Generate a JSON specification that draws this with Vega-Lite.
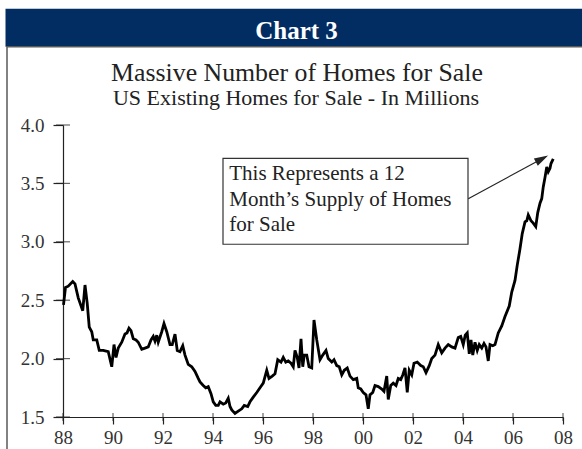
{
  "$schema": "https://vega.github.io/schema/vega-lite/v6.json",
  "width": 500,
  "height": 292,
  "autosize": {"type": "none"},
  "padding": {"left": 63, "top": 125, "right": 19, "bottom": 32},
  "background": "white",
  "config": {
    "view": {"stroke": null},
    "axis": {
      "labelFont": "Liberation Serif",
      "labelFontSize": 19,
      "labelColor": "#333333",
      "domainColor": "#222222",
      "domainWidth": 1.2,
      "tickColor": "#222222",
      "tickWidth": 1.2,
      "grid": false,
      "title": null,
      "labelFlush": false,
      "labelOverlap": false
    }
  },
  "datasets": {
    "homes": [
      {"t": 1988.02, "v": 2.46}, {"t": 1988.10, "v": 2.61}, {"t": 1988.21, "v": 2.62}, {"t": 1988.39, "v": 2.66},
      {"t": 1988.48, "v": 2.64}, {"t": 1988.61, "v": 2.52}, {"t": 1988.79, "v": 2.41}, {"t": 1988.88, "v": 2.63},
      {"t": 1988.97, "v": 2.47}, {"t": 1989.05, "v": 2.27}, {"t": 1989.15, "v": 2.23}, {"t": 1989.21, "v": 2.16},
      {"t": 1989.35, "v": 2.16}, {"t": 1989.45, "v": 2.07}, {"t": 1989.61, "v": 2.07}, {"t": 1989.81, "v": 2.06},
      {"t": 1989.95, "v": 1.93}, {"t": 1990.04, "v": 2.12}, {"t": 1990.12, "v": 2.01}, {"t": 1990.21, "v": 2.09},
      {"t": 1990.35, "v": 2.14}, {"t": 1990.48, "v": 2.21}, {"t": 1990.56, "v": 2.22}, {"t": 1990.64, "v": 2.26},
      {"t": 1990.72, "v": 2.24}, {"t": 1990.81, "v": 2.17}, {"t": 1990.92, "v": 2.16}, {"t": 1991.01, "v": 2.14},
      {"t": 1991.15, "v": 2.08}, {"t": 1991.28, "v": 2.09}, {"t": 1991.41, "v": 2.10}, {"t": 1991.52, "v": 2.16},
      {"t": 1991.61, "v": 2.19}, {"t": 1991.68, "v": 2.15}, {"t": 1991.75, "v": 2.20}, {"t": 1991.81, "v": 2.14},
      {"t": 1991.95, "v": 2.23}, {"t": 1992.04, "v": 2.30}, {"t": 1992.15, "v": 2.23}, {"t": 1992.28, "v": 2.12},
      {"t": 1992.37, "v": 2.12}, {"t": 1992.48, "v": 2.21}, {"t": 1992.57, "v": 2.07}, {"t": 1992.68, "v": 2.06},
      {"t": 1992.79, "v": 2.11}, {"t": 1992.88, "v": 2.03}, {"t": 1993.01, "v": 1.95}, {"t": 1993.15, "v": 1.93},
      {"t": 1993.28, "v": 1.89}, {"t": 1993.41, "v": 1.83}, {"t": 1993.48, "v": 1.80}, {"t": 1993.61, "v": 1.77},
      {"t": 1993.71, "v": 1.75}, {"t": 1993.81, "v": 1.76}, {"t": 1993.92, "v": 1.70}, {"t": 1994.01, "v": 1.63},
      {"t": 1994.11, "v": 1.60}, {"t": 1994.21, "v": 1.60}, {"t": 1994.28, "v": 1.63}, {"t": 1994.41, "v": 1.61},
      {"t": 1994.51, "v": 1.62}, {"t": 1994.61, "v": 1.66}, {"t": 1994.68, "v": 1.59}, {"t": 1994.75, "v": 1.56},
      {"t": 1994.88, "v": 1.53}, {"t": 1995.01, "v": 1.55}, {"t": 1995.15, "v": 1.57}, {"t": 1995.25, "v": 1.60},
      {"t": 1995.39, "v": 1.59}, {"t": 1995.48, "v": 1.63}, {"t": 1995.61, "v": 1.67}, {"t": 1995.75, "v": 1.71},
      {"t": 1995.88, "v": 1.75}, {"t": 1996.01, "v": 1.79}, {"t": 1996.15, "v": 1.90}, {"t": 1996.24, "v": 1.83},
      {"t": 1996.37, "v": 1.85}, {"t": 1996.48, "v": 1.87}, {"t": 1996.59, "v": 1.99}, {"t": 1996.72, "v": 1.97},
      {"t": 1996.81, "v": 2.01}, {"t": 1996.91, "v": 1.97}, {"t": 1997.01, "v": 1.98}, {"t": 1997.12, "v": 1.96},
      {"t": 1997.21, "v": 1.93}, {"t": 1997.28, "v": 2.07}, {"t": 1997.37, "v": 2.01}, {"t": 1997.44, "v": 1.92},
      {"t": 1997.52, "v": 2.17}, {"t": 1997.59, "v": 1.93}, {"t": 1997.65, "v": 2.03}, {"t": 1997.75, "v": 2.03},
      {"t": 1997.84, "v": 1.93}, {"t": 1997.95, "v": 1.92}, {"t": 1998.04, "v": 2.33}, {"t": 1998.15, "v": 2.16},
      {"t": 1998.28, "v": 1.99}, {"t": 1998.39, "v": 2.03}, {"t": 1998.52, "v": 2.07}, {"t": 1998.61, "v": 2.00},
      {"t": 1998.75, "v": 1.97}, {"t": 1998.84, "v": 1.99}, {"t": 1998.95, "v": 1.94}, {"t": 1999.05, "v": 1.93},
      {"t": 1999.15, "v": 1.86}, {"t": 1999.25, "v": 1.90}, {"t": 1999.37, "v": 1.92}, {"t": 1999.48, "v": 1.85},
      {"t": 1999.61, "v": 1.82}, {"t": 1999.75, "v": 1.83}, {"t": 1999.81, "v": 1.75}, {"t": 1999.91, "v": 1.74},
      {"t": 2000.01, "v": 1.71}, {"t": 2000.12, "v": 1.69}, {"t": 2000.21, "v": 1.57}, {"t": 2000.28, "v": 1.69},
      {"t": 2000.39, "v": 1.71}, {"t": 2000.48, "v": 1.77}, {"t": 2000.61, "v": 1.76}, {"t": 2000.75, "v": 1.74},
      {"t": 2000.84, "v": 1.72}, {"t": 2000.95, "v": 1.85}, {"t": 2001.01, "v": 1.65}, {"t": 2001.11, "v": 1.77},
      {"t": 2001.21, "v": 1.79}, {"t": 2001.32, "v": 1.77}, {"t": 2001.41, "v": 1.83}, {"t": 2001.51, "v": 1.82},
      {"t": 2001.59, "v": 1.86}, {"t": 2001.68, "v": 1.92}, {"t": 2001.77, "v": 1.71}, {"t": 2001.85, "v": 1.90},
      {"t": 2001.95, "v": 1.86}, {"t": 2002.04, "v": 1.96}, {"t": 2002.17, "v": 1.97}, {"t": 2002.31, "v": 1.94},
      {"t": 2002.41, "v": 1.93}, {"t": 2002.52, "v": 1.88}, {"t": 2002.65, "v": 1.94}, {"t": 2002.75, "v": 2.00},
      {"t": 2002.88, "v": 2.03}, {"t": 2003.01, "v": 2.12}, {"t": 2003.15, "v": 2.05}, {"t": 2003.28, "v": 2.09},
      {"t": 2003.41, "v": 2.12}, {"t": 2003.55, "v": 2.10}, {"t": 2003.68, "v": 2.09}, {"t": 2003.81, "v": 2.18},
      {"t": 2003.91, "v": 2.19}, {"t": 2004.01, "v": 2.12}, {"t": 2004.09, "v": 2.20}, {"t": 2004.17, "v": 2.22},
      {"t": 2004.25, "v": 2.04}, {"t": 2004.32, "v": 2.16}, {"t": 2004.39, "v": 2.03}, {"t": 2004.48, "v": 2.14},
      {"t": 2004.57, "v": 2.07}, {"t": 2004.65, "v": 2.12}, {"t": 2004.75, "v": 2.09}, {"t": 2004.84, "v": 2.13},
      {"t": 2004.92, "v": 2.10}, {"t": 2005.01, "v": 1.98}, {"t": 2005.08, "v": 2.12}, {"t": 2005.19, "v": 2.11},
      {"t": 2005.28, "v": 2.12}, {"t": 2005.41, "v": 2.22}, {"t": 2005.55, "v": 2.28}, {"t": 2005.68, "v": 2.36},
      {"t": 2005.85, "v": 2.45}, {"t": 2005.95, "v": 2.57}, {"t": 2006.08, "v": 2.67}, {"t": 2006.17, "v": 2.80},
      {"t": 2006.28, "v": 2.94}, {"t": 2006.37, "v": 3.07}, {"t": 2006.48, "v": 3.17}, {"t": 2006.55, "v": 3.18},
      {"t": 2006.61, "v": 3.23}, {"t": 2006.72, "v": 3.18}, {"t": 2006.81, "v": 3.16}, {"t": 2006.91, "v": 3.13},
      {"t": 2006.99, "v": 3.25}, {"t": 2007.08, "v": 3.33}, {"t": 2007.15, "v": 3.37}, {"t": 2007.21, "v": 3.47},
      {"t": 2007.28, "v": 3.55}, {"t": 2007.35, "v": 3.64}, {"t": 2007.41, "v": 3.60}, {"t": 2007.48, "v": 3.63},
      {"t": 2007.52, "v": 3.67}, {"t": 2007.61, "v": 3.71}
    ],
    "yticks": [{"y": 1.5}, {"y": 2.0}, {"y": 2.5}, {"y": 3.0}, {"y": 3.5}, {"y": 4.0}],
    "xticks": [{"x": 1988}, {"x": 1990}, {"x": 1992}, {"x": 1994}, {"x": 1996}, {"x": 1998}, {"x": 2000}, {"x": 2002}, {"x": 2004}, {"x": 2006}, {"x": 2008}]
  },
  "layer": [
    {
      "data": {"values": [{"name": "banner"}]},
      "mark": {"type": "rect", "fill": "#022d63", "clip": false},
      "encoding": {
        "x": {"datum": 1985.70, "type": "quantitative", "scale": {"domain": [1988, 2008], "nice": false, "zero": false}},
        "x2": {"datum": 2009.48},
        "y": {"datum": 4.996, "type": "quantitative", "scale": {"domain": [1.5, 4.0], "nice": false, "zero": false}},
        "y2": {"datum": 4.671}
      }
    },
    {
      "data": {"values": [{"name": "frame"}]},
      "mark": {"type": "rect", "fill": null, "stroke": "#5a5a5a", "strokeWidth": 1.5, "clip": false},
      "encoding": {
        "x": {"datum": 1985.76, "type": "quantitative"},
        "x2": {"datum": 2009.48},
        "y": {"datum": 4.671, "type": "quantitative"},
        "y2": {"datum": 1.047}
      }
    },
    {
      "data": {"values": [{"label": "Chart 3"}]},
      "mark": {"type": "text", "font": "Liberation Serif", "fontSize": 25, "fontWeight": "bold", "color": "white", "align": "center", "baseline": "alphabetic", "clip": false},
      "encoding": {
        "x": {"datum": 1997.34, "type": "quantitative"},
        "y": {"datum": 4.737, "type": "quantitative"},
        "text": {"field": "label"}
      }
    },
    {
      "data": {"values": [{"label": "Massive Number of Homes for Sale"}]},
      "mark": {"type": "text", "font": "Liberation Serif", "fontSize": 25.8, "color": "#222222", "align": "center", "baseline": "alphabetic", "clip": false},
      "encoding": {
        "x": {"datum": 1997.36, "type": "quantitative"},
        "y": {"datum": 4.38, "type": "quantitative"},
        "text": {"field": "label"}
      }
    },
    {
      "data": {"values": [{"label": "US Existing Homes for Sale - In Millions"}]},
      "mark": {"type": "text", "font": "Liberation Serif", "fontSize": 22, "color": "#222222", "align": "center", "baseline": "alphabetic", "clip": false},
      "encoding": {
        "x": {"datum": 1997.32, "type": "quantitative"},
        "y": {"datum": 4.175, "type": "quantitative"},
        "text": {"field": "label"}
      }
    },
    {
      "data": {"name": "yticks"},
      "mark": {"type": "tick", "orient": "horizontal", "size": 14, "thickness": 1.2, "color": "#222222", "clip": false},
      "encoding": {
        "x": {"datum": 1988, "type": "quantitative"},
        "y": {"field": "y", "type": "quantitative", "axis": {"values": [1.5, 2.0, 2.5, 3.0, 3.5, 4.0], "format": ".1f", "tickSize": 10, "labelPadding": 9}}
      }
    },
    {
      "data": {"name": "xticks"},
      "mark": {"type": "tick", "orient": "vertical", "size": 8, "thickness": 1.2, "color": "#222222", "clip": false},
      "encoding": {
        "x": {"field": "x", "type": "quantitative", "axis": {"values": [1988, 1990, 1992, 1994, 1996, 1998, 2000, 2002, 2004, 2006, 2008], "labelExpr": "slice('0' + (datum.value % 100), -2)", "tickSize": 7, "labelPadding": 4}},
        "y": {"datum": 1.5, "type": "quantitative"}
      }
    },
    {
      "data": {"values": [{"name": "note box"}]},
      "mark": {"type": "rect", "fill": "white", "stroke": "#333333", "strokeWidth": 1.2},
      "encoding": {
        "x": {"datum": 1994.4, "type": "quantitative"},
        "x2": {"datum": 2004.2},
        "y": {"datum": 3.714, "type": "quantitative"},
        "y2": {"datum": 2.979}
      }
    },
    {
      "data": {"values": [{"name": "note"}]},
      "mark": {"type": "text", "text": ["This Represents a 12", "Month\u2019s Supply of Homes", "for Sale"], "font": "Liberation Serif", "fontSize": 21, "lineHeight": 25.5, "color": "#222222", "align": "left", "baseline": "alphabetic"},
      "encoding": {
        "x": {"datum": 1994.65, "type": "quantitative"},
        "y": {"datum": 3.526, "type": "quantitative"}
      }
    },
    {
      "data": {"values": [{"name": "arrow"}]},
      "mark": {"type": "rule", "color": "#222222", "strokeWidth": 1.2},
      "encoding": {
        "x": {"datum": 2004.21, "type": "quantitative"},
        "y": {"datum": 3.369, "type": "quantitative"},
        "x2": {"datum": 2007.16},
        "y2": {"datum": 3.711}
      }
    },
    {
      "data": {"values": [{"name": "arrowhead"}]},
      "mark": {"type": "point", "shape": "M-0.6,1L0,-1L0.6,1Z", "size": 196, "angle": 61.7, "filled": true, "color": "#222222", "opacity": 1},
      "encoding": {
        "x": {"datum": 2007.16, "type": "quantitative"},
        "y": {"datum": 3.711, "type": "quantitative"}
      }
    },
    {
      "data": {"name": "homes"},
      "mark": {"type": "line", "color": "black", "strokeWidth": 2.8},
      "encoding": {
        "x": {"field": "t", "type": "quantitative"},
        "y": {"field": "v", "type": "quantitative"}
      }
    }
  ]
}
